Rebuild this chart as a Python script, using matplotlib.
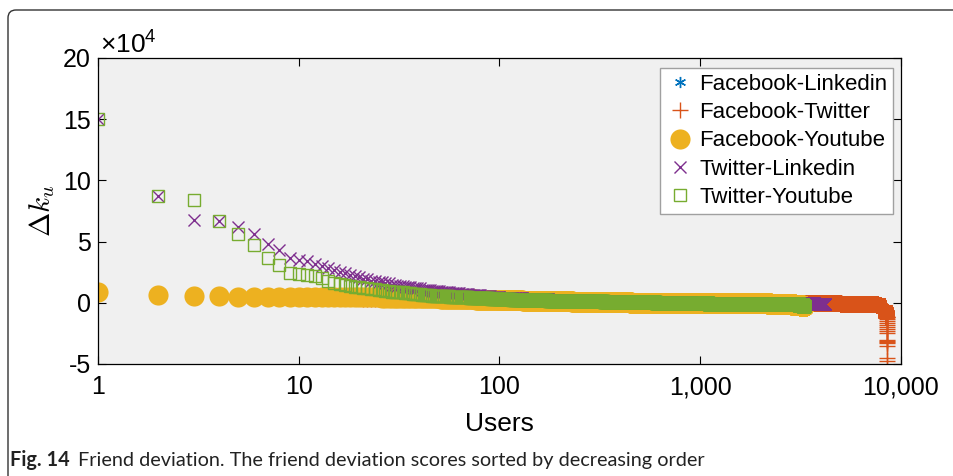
import numpy as np
import matplotlib
matplotlib.use("Agg")
from matplotlib import pyplot as plt
from matplotlib.patches import FancyBboxPatch

# Friend deviation per user pair of networks, sorted in decreasing order.
# Each series is stored as runs: last user rank of the run, deviation (x1e4).
fb_li_upto = [1, 2, 3, 5, 10, 30, 100, 300, 1000, 2000, 2900]
fb_li_delta = [0.7, 0.5, 0.45, 0.42, 0.4, 0.35, 0.2, 0.1, 0.02, 0.0, -0.03]

fb_tw_upto = [1, 2, 3, 5, 10, 20, 50, 100, 200, 400,
              700, 1000, 2000, 3000, 4000, 5000, 6000, 7000, 7600, 7900,
              8100, 8250, 8300, 8330, 8360, 8390, 8410, 8425, 8440, 8450,
              8460, 8470, 8471, 8472, 8473, 8474, 8475, 8476, 8477, 8478,
              8479, 8480, 8481, 8482, 8483, 8484, 8485]
fb_tw_delta = [0.85, 0.55, 0.5, 0.45, 0.42, 0.38, 0.3, 0.2, 0.1, 0.05,
               0.03, 0.01, 0.0, -0.02, -0.04, -0.05, -0.06, -0.07, -0.1, -0.15,
               -0.25, -0.3, -0.4, -0.5, -0.6, -0.7, -0.8, -0.9, -1.0, -1.1,
               -1.15, -1.2, -1.33, -1.5, -1.67, -1.83, -2.0, -2.16, -2.32, -2.48,
               -3.0, -3.1, -3.2, -3.3, -3.5, -4.52, -4.74]

fb_yt_upto = [1, 2, 3, 4, 5, 6, 7, 8, 9, 10,
              12, 14, 16, 18, 20, 25, 30, 40, 50, 60,
              75, 100, 130, 170, 230, 320, 450, 650, 1000, 1500,
              2200, 2900, 3200, 3300]
fb_yt_delta = [0.92, 0.62, 0.55, 0.52, 0.5, 0.5, 0.49, 0.49, 0.48, 0.48,
               0.47, 0.47, 0.46, 0.46, 0.45, 0.44, 0.42, 0.4, 0.36, 0.33,
               0.3, 0.25, 0.2, 0.15, 0.12, 0.08, 0.05, 0.02, 0.0, -0.02,
               -0.04, -0.06, -0.15, -0.3]

tw_li_upto = [1, 2, 3, 4, 5, 6, 7, 8, 9, 10, 11, 12, 13, 14, 15, 16, 17, 18, 19, 20,
              22, 24, 26, 28, 30, 33, 36, 40, 45, 50,
              56, 63, 70, 80, 90, 100, 115, 130, 150, 175,
              200, 240, 280, 330, 400, 500, 600, 750, 900, 1100,
              1400, 1800, 2300, 2800, 3300, 3700, 4000, 4200]
tw_li_delta = [15.0, 8.7, 6.75, 6.7, 6.2, 5.6, 4.8, 4.3, 3.7, 3.5,
               3.4, 3.15, 2.97, 2.83, 2.64, 2.5, 2.4, 2.3, 2.2, 2.1,
               1.95, 1.8, 1.68, 1.58, 1.48, 1.38, 1.28, 1.18, 1.08, 0.98,
               0.88, 0.8, 0.72, 0.64, 0.57, 0.5, 0.43, 0.37, 0.32, 0.28,
               0.25, 0.22, 0.19, 0.17, 0.14, 0.1, 0.07, 0.05, 0.03, 0.01,
               0.0, -0.01, -0.02, -0.03, -0.04, -0.05, -0.07, -0.1]

tw_yt_upto = [1, 2, 3, 4, 5, 6, 7, 8, 9, 10, 11, 12, 13, 14, 15, 16, 17, 18, 19, 20,
              22, 24, 26, 28, 30, 33, 36, 40, 45, 50,
              56, 63, 70, 80, 90, 100, 115, 130, 150, 175,
              200, 240, 280, 330, 400, 500, 600, 750, 900, 1100,
              1400, 1800, 2300, 2800, 3100, 3250, 3300]
tw_yt_delta = [15.0, 8.7, 8.4, 6.7, 5.6, 4.7, 3.7, 3.1, 2.4, 2.37,
               2.29, 2.15, 2.0, 1.8, 1.65, 1.55, 1.47, 1.4, 1.33, 1.28,
               1.2, 1.12, 1.06, 0.98, 0.92, 0.85, 0.78, 0.7, 0.64, 0.58,
               0.53, 0.48, 0.44, 0.4, 0.37, 0.34, 0.29, 0.25, 0.22, 0.2,
               0.17, 0.15, 0.13, 0.12, 0.09, 0.05, 0.03, 0.0, -0.02, -0.04,
               -0.06, -0.08, -0.09, -0.1, -0.12, -0.16, -0.3]

x_ticks = [1, 10, 100, 1000, 10000]
x_tick_labels = ["1", "10", "100", "1,000", "10,000"]
y_ticks = [-5, 0, 5, 10, 15, 20]
y_tick_labels = ["-5", "0", "5", "10", "15", "20"]


def expand(upto, delta):
    # one point per user: every user in a run gets the run's deviation
    counts = np.diff(np.concatenate(([0], upto)))
    return np.arange(1, upto[-1] + 1), np.repeat(delta, counts)


plt.rcParams["font.family"] = ["Liberation Sans", "DejaVu Sans"]
plt.rcParams["mathtext.fontset"] = "custom"
plt.rcParams["mathtext.rm"] = "Liberation Sans"
plt.rcParams["mathtext.it"] = "Liberation Sans:italic"

fig = plt.figure(figsize=(9.54, 4.76), dpi=100)
ax = fig.add_axes([98 / 954, 1 - 364 / 476, 803 / 954, 306 / 476])
ax.set_facecolor("#f0f0f0")

series = [
    (fb_li_upto, fb_li_delta, "Facebook-Linkedin",
     dict(marker=(6, 2, 0), ms=8, mew=1, color="#0072BD")),
    (fb_tw_upto, fb_tw_delta, "Facebook-Twitter",
     dict(marker="+", ms=11.5, mew=1, color="#D95319")),
    (fb_yt_upto, fb_yt_delta, "Facebook-Youtube",
     dict(marker="o", ms=14.5, mew=0, color="#EDB120")),
    (tw_li_upto, tw_li_delta, "Twitter-Linkedin",
     dict(marker="x", ms=8, mew=1, color="#7E2F8E")),
    (tw_yt_upto, tw_yt_delta, "Twitter-Youtube",
     dict(marker="s", ms=8, mew=1, color="#77AC30", mfc="none")),
]
for upto, delta, name, style in series:
    users, dev = expand(upto, delta)
    ax.plot(users, dev, linestyle="none", label=name, **style)

ax.set_xscale("log")
ax.set_xlim(1, 10000)
ax.set_ylim(-5, 20)
ax.set_xticks(x_ticks, x_tick_labels)
ax.set_yticks(y_ticks, y_tick_labels)
ax.minorticks_off()
ax.tick_params(direction="in", top=True, right=True, length=6, width=0.8,
               labelsize=18, colors="black")
ax.tick_params(axis="x", pad=8)
ax.tick_params(axis="y", pad=5)
for sp in ax.spines.values():
    sp.set_linewidth(0.9)

ax.text(0.002, 1.016, r"$\times$10$^{4}$", transform=ax.transAxes,
        ha="left", va="baseline", fontsize=19)

ax.set_ylabel(r"$\Delta k_u$", fontsize=21, math_fontfamily="cm")
ax.yaxis.set_label_coords(-0.051, 0.5)
ax.set_xlabel("Users", fontsize=19)
ax.xaxis.set_label_coords(0.5, -(431 - 364) / 306)
ax.xaxis.label.set_va("baseline")

leg = ax.legend(loc="upper right", bbox_to_anchor=(0.99, 0.967),
                fontsize=16, frameon=True, fancybox=False, framealpha=1,
                edgecolor="#a0a0a0", borderpad=0.25, handlelength=1.3,
                handletextpad=0.2, labelspacing=0.33, borderaxespad=0,
                numpoints=1)
leg.get_frame().set_linewidth(1)

# outer rounded frame, cut by the figure edges
frame = FancyBboxPatch((0.08, -1.0), 12, 5.66,
                       boxstyle="round,pad=0,rounding_size=0.08",
                       transform=fig.dpi_scale_trans, fill=False,
                       edgecolor="#333333", linewidth=1, clip_on=False)
fig.add_artist(frame)

cap_y = 1 - 466 / 476
t = fig.text(10 / 954, cap_y, "Fig. 14", fontsize=14.3, fontweight="bold",
             family=["Lato", "DejaVu Sans"], va="baseline", color="#222222")
fig.canvas.draw()
bb = t.get_window_extent(fig.canvas.get_renderer())
fig.text(bb.x1 / fig.bbox.width + 8 / 954, cap_y,
         "Friend deviation. The friend deviation scores sorted by decreasing order",
         fontsize=14.3, family=["Lato", "DejaVu Sans"], va="baseline",
         color="#222222")

fig.savefig("out.png", dpi=100)
